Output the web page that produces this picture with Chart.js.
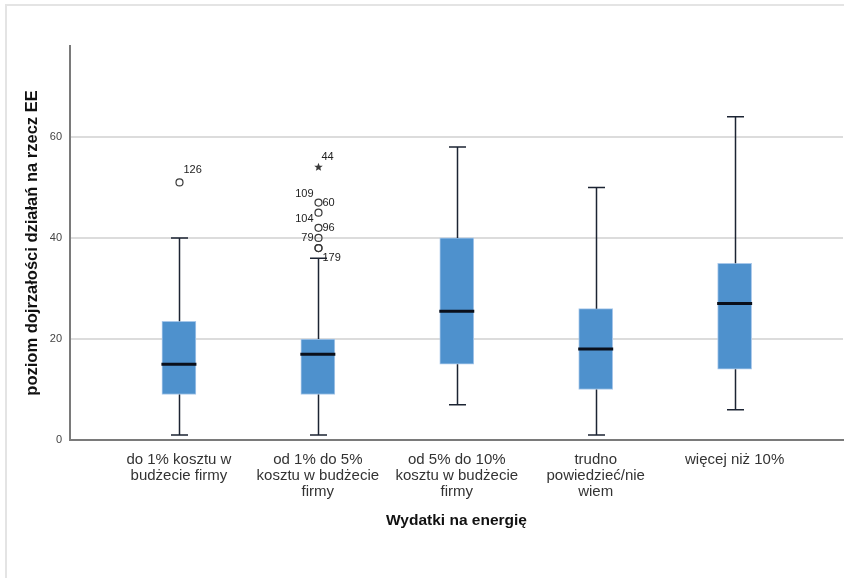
<!DOCTYPE html>
<html lang="pl">
<head>
<meta charset="UTF-8">
<title>Wydatki na energię - boxplot</title>
<script src="https://cdn.jsdelivr.net/npm/chart.js"></script>
<style>
    body { margin: 0; background: #fff; }
    .frame { position: absolute; left: 5px; top: 4px; width: 850px; height: 600px;
             border-top: 2px solid #e4e4e4; border-left: 2px solid #e4e4e4; }
    canvas { position: absolute; left: 0; top: 0; }
</style>
</head>
<body>
<div class="frame"></div>
<canvas id="chart" width="844" height="578"></canvas>
<script>
    // categories (x axis)
    const categories = [
        ['do 1% kosztu w', 'budżecie firmy'],
        ['od 1% do 5%', 'kosztu w budżecie', 'firmy'],
        ['od 5% do 10%', 'kosztu w budżecie', 'firmy'],
        ['trudno', 'powiedzieć/nie', 'wiem'],
        ['więcej niż 10%']
    ];
    // box statistics per category
    const whiskerLow = [1, 1, 7, 1, 6];
    const q1 = [9, 9, 15, 10, 14];
    const median = [15, 17, 25.5, 18, 27];
    const q3 = [23.5, 20, 40, 26, 35];
    const whiskerHigh = [40, 36, 58, 50, 64];
    // outliers: category index, value, case id, kind
    const outlierCat = [0, 1, 1, 1, 1, 1, 1, 1];
    const outlierValue = [51, 54, 47, 45, 42, 40, 38, 38];
    const outlierId = ['126', '44', '109', '104', '96', '79', '179', ''];
    const outlierKind = ['o', '*', 'o', 'o', 'o', 'o', 'o', 'o'];
    const outlierId2 = ['', '', '60', '', '', '', '', ''];
    const yTicks = [0, 20, 40, 60];

    // label offsets (dx, dy, align) for the case numbers
    const labelPos = [
        [4, -12, 'left'], [3, -10, 'left'], [-5, -9, 'right'], [-5, 6, 'right'],
        [4, 0, 'left'], [-5, 0, 'right'], [4, 10, 'left'], [0, 0, 'left']
    ];

    const boxParts = {
        id: 'boxParts',
        afterDatasetsDraw(chart) {
            const { ctx, scales: { x, y } } = chart;
            ctx.save();
            ctx.strokeStyle = '#1c2433';
            ctx.lineWidth = 1.5;
            categories.forEach((c, i) => {
                const cx = Math.round(x.getPixelForValue(i)) + 0.5;
                // whiskers
                ctx.beginPath();
                ctx.moveTo(cx, y.getPixelForValue(q3[i]));
                ctx.lineTo(cx, y.getPixelForValue(whiskerHigh[i]));
                ctx.moveTo(cx, y.getPixelForValue(q1[i]));
                ctx.lineTo(cx, y.getPixelForValue(whiskerLow[i]));
                ctx.moveTo(cx - 8.5, y.getPixelForValue(whiskerHigh[i]));
                ctx.lineTo(cx + 8.5, y.getPixelForValue(whiskerHigh[i]));
                ctx.moveTo(cx - 8.5, y.getPixelForValue(whiskerLow[i]));
                ctx.lineTo(cx + 8.5, y.getPixelForValue(whiskerLow[i]));
                ctx.stroke();
            });
            // medians
            ctx.strokeStyle = '#0a0f1a';
            ctx.lineWidth = 3;
            categories.forEach((c, i) => {
                const cx = x.getPixelForValue(i);
                const my = y.getPixelForValue(median[i]);
                ctx.beginPath();
                ctx.moveTo(cx - 17.5, my);
                ctx.lineTo(cx + 17.5, my);
                ctx.stroke();
            });
            // outliers
            ctx.font = '11px "Liberation Sans", Arial, sans-serif';
            ctx.textBaseline = 'middle';
            outlierValue.forEach((v, k) => {
                const px = Math.round(x.getPixelForValue(outlierCat[k])) + 0.5;
                const py = y.getPixelForValue(v);
                ctx.strokeStyle = '#3a3a3a';
                ctx.fillStyle = '#3a3a3a';
                ctx.lineWidth = 1.2;
                if (outlierKind[k] === 'o') {
                    ctx.beginPath();
                    ctx.arc(px, py, 3.5, 0, Math.PI * 2);
                    ctx.stroke();
                } else {
                    ctx.beginPath();
                    for (let j = 0; j < 10; j++) {
                        const r = j % 2 === 0 ? 4.5 : 1.9;
                        const a = -Math.PI / 2 + j * Math.PI / 5;
                        ctx.lineTo(px + r * Math.cos(a), py + r * Math.sin(a));
                    }
                    ctx.closePath();
                    ctx.fill();
                }
                ctx.fillStyle = '#222';
                const [dx, dy, al] = labelPos[k];
                if (outlierId[k]) {
                    ctx.textAlign = al;
                    ctx.fillText(outlierId[k], px + dx, py + dy);
                }
                if (outlierId2[k]) {
                    ctx.textAlign = 'left';
                    ctx.fillText(outlierId2[k], px + 4, py);
                }
            });
            ctx.restore();
        }
    };

    new Chart(document.getElementById('chart'), {
        type: 'bar',
        data: {
            datasets: [{
                data: q1.map((v, i) => ({ x: i, y: [v, q3[i]] })),
                backgroundColor: '#4e91cd',
                borderColor: '#a8c8ea',
                borderWidth: 1,
                borderSkipped: false,
                barThickness: 34
            }]
        },
        options: {
            responsive: false,
            animation: false,
            devicePixelRatio: 1,
            layout: { padding: { top: 46, right: 1, left: 0, bottom: 0 } },
            plugins: { legend: { display: false }, tooltip: { enabled: false } },
            scales: {
                x: {
                    type: 'linear',
                    offset: false,
                    min: -0.784,
                    max: 4.78,
                    afterFit: s => { s.height = 138; },
                    afterBuildTicks: s => { s.ticks = categories.map((c, i) => ({ value: i })); },
                    grid: { display: false, drawTicks: false },
                    border: { color: '#7a7a7a', width: 2 },
                    ticks: {
                        padding: 12,
                        maxRotation: 0,
                        autoSkip: false,
                        color: '#333',
                        font: { family: '"Liberation Sans", Arial, sans-serif', size: 15, lineHeight: 1.07 },
                        callback: v => categories[v]
                    },
                    title: {
                        display: true,
                        text: 'Wydatki na energię',
                        color: '#111',
                        font: { family: '"Liberation Sans", Arial, sans-serif', size: 15.5, weight: 'bold', lineHeight: 1.2 },
                        padding: { top: 0, bottom: 48 }
                    }
                },
                y: {
                    min: 0,
                    max: 78,
                    afterFit: s => { s.width = 70; },
                    afterBuildTicks: s => { s.ticks = yTicks.map(v => ({ value: v })); },
                    grid: { color: '#dcdcdc', lineWidth: 2, drawTicks: false },
                    border: { color: '#7a7a7a', width: 2 },
                    ticks: {
                        padding: 8,
                        color: '#444',
                        font: { family: '"Liberation Sans", Arial, sans-serif', size: 11 }
                    },
                    title: {
                        display: true,
                        text: 'poziom dojrzałości działań na rzecz EE',
                        color: '#111',
                        font: { family: '"Liberation Sans", Arial, sans-serif', size: 16.5, weight: 'bold', lineHeight: 1.2 },
                        padding: { top: 23, bottom: 0 }
                    }
                }
            }
        },
        plugins: [boxParts]
    });
</script>
</body>
</html>
